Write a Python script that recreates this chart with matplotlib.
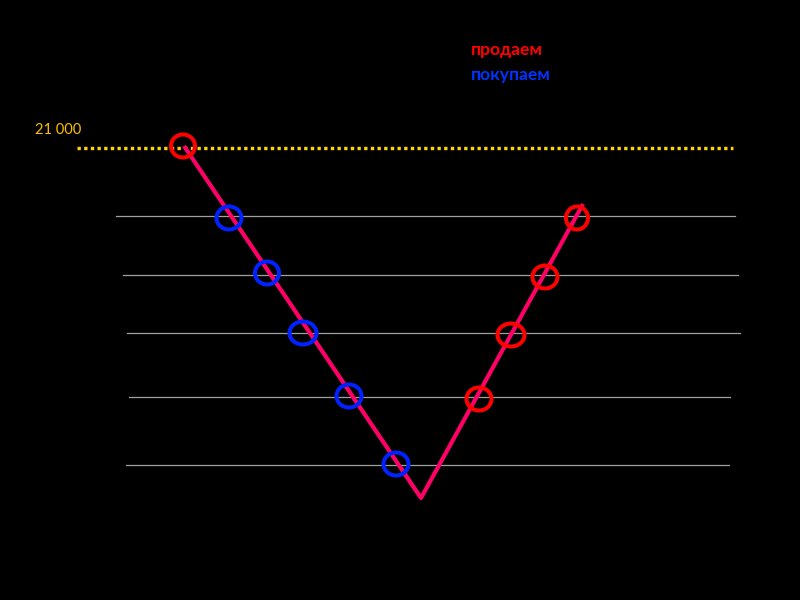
import matplotlib.pyplot as plt
from matplotlib.patches import Ellipse

# price path (screen units, y grows downward)
path_x = [184, 421, 583]
path_y = [146, 498, 204]

# buy points (blue) and sell points (red)
buy_x = [229, 267, 303, 349, 396]
buy_y = [218, 273, 333, 396, 464]
buy_w = [25, 24, 27, 25, 25]
sell_x = [183, 577, 545, 511, 479]
sell_y = [146, 218, 277, 335, 399]
sell_w = [24, 22, 25, 27, 25]

# grid levels: y, x start, x end
level_y = [216, 275, 333, 397, 465]
level_x0 = [116, 123, 127, 129, 126]
level_x1 = [735, 738, 740, 730, 729]

top_level = 148
top_label = "21 000"

fig = plt.figure(figsize=(8, 6), dpi=100, facecolor='black')
ax = fig.add_axes([0, 0, 1, 1])
ax.set_facecolor('black')
ax.set_xlim(0, 800)
ax.set_ylim(600, 0)
ax.axis('off')

for y, x0, x1 in zip(level_y, level_x0, level_x1):
    ax.plot([x0, x1], [y, y], color='#a0a0a0', lw=0.9)

ax.plot([77, 733], [top_level, top_level], color='#FFD700', lw=2.4,
        linestyle=(0, (1, 1)))
ax.text(35, 130, top_label, color='#FFC000', fontsize=10.5,
        family=['Lato', 'DejaVu Sans'], va='center', ha='left')

ax.plot(path_x, path_y, color='#FF0066', lw=3, solid_capstyle='butt', zorder=3)

for x, y, w in zip(buy_x, buy_y, buy_w):
    ax.add_patch(Ellipse((x, y), w, 23, fill=False, ec='#0022FF', lw=2.9, zorder=4))
for x, y, w in zip(sell_x, sell_y, sell_w):
    ax.add_patch(Ellipse((x, y), w, 23, fill=False, ec='#FF0000', lw=2.9, zorder=4))

ax.text(471, 50, "продаем", color='#FF0000', fontsize=12.6, fontweight='bold',
        family=['Lato', 'DejaVu Sans'], va='center', ha='left')
ax.text(471, 75, "покупаем", color='#0033FF', fontsize=12.6, fontweight='bold',
        family=['Lato', 'DejaVu Sans'], va='center', ha='left')

fig.savefig('out.png', dpi=100, facecolor='black')
